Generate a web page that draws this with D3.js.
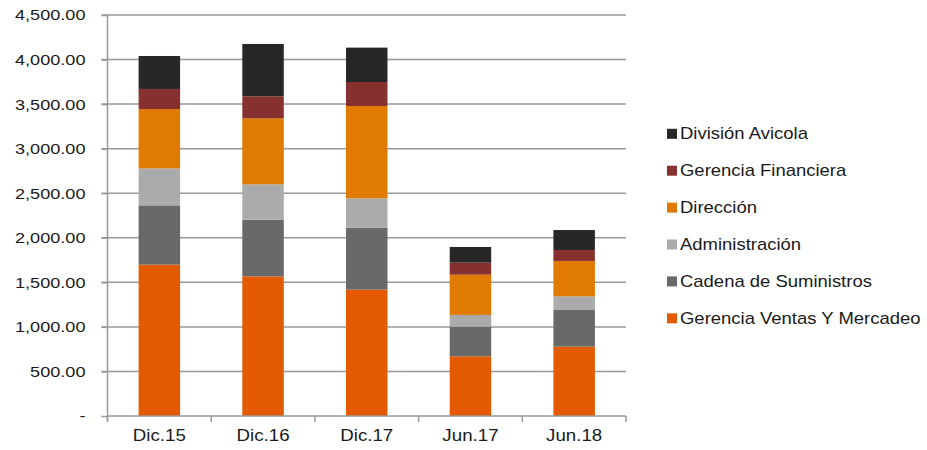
<!DOCTYPE html>
<html><head><meta charset="utf-8">
<script src="https://cdn.jsdelivr.net/npm/d3@7"></script>
<style>body{margin:0;background:#fff}svg{display:block;font-family:"Liberation Sans",Arial,sans-serif}</style>
</head><body><svg id="c" width="927" height="450"></svg>
<script>
const categories = ["Dic.15","Dic.16","Dic.17","Jun.17","Jun.18"];
const seriesNames = ["Gerencia Ventas Y Mercadeo","Cadena de Suministros","Administración","Dirección","Gerencia Financiera","División Avicola"];
const gerenciaVentas = [1698,1567,1418,670,778];
const cadenaSuministros = [666,636,696,333,412];
const administracion = [415,397,329,131,153];
const direccion = [666,741,1036,452,397];
const gerenciaFinanciera = [225,247,269,135,123];
const divisionAvicola = [370,587,386,176,224];
const colors = ["#E35A00","#696969","#ABABAB","#E07A00","#86302F","#272727"];
const yTicks = [0,500,1000,1500,2000,2500,3000,3500,4000,4500];

const seriesVals = [gerenciaVentas,cadenaSuministros,administracion,direccion,gerenciaFinanciera,divisionAvicola];
const rows = categories.map((c,i)=>{const r={cat:c};seriesNames.forEach((s,j)=>r[s]=seriesVals[j][i]);return r;});
const stack = d3.stack().keys(seriesNames)(rows);

const svg = d3.select("#c");
const L=107.5, R=626, T=15, B=416;
const SX=1.17;
const x = d3.scaleBand().domain(categories).range([L,R]).paddingInner(0.6).paddingOuter(0.3);
const y = d3.scaleLinear().domain([0,4500]).range([B,T]);
const fmt = v => v===0 ? "-" : d3.format(",.2f")(v);

// gridlines
svg.append("g").selectAll("line").data(yTicks.filter(d=>d>0)).join("line")
  .attr("x1",L-6).attr("x2",R).attr("y1",d=>y(d)).attr("y2",d=>y(d))
  .attr("stroke","#999").attr("stroke-width",1.5);

// bars
svg.append("g").selectAll("g").data(stack).join("g").attr("fill",(d,i)=>colors[i])
  .selectAll("rect").data(d=>d).join("rect")
  .attr("x",d=>x(d.data.cat)).attr("width",x.bandwidth())
  .attr("y",d=>y(d[1])).attr("height",d=>y(d[0])-y(d[1]));

// y axis
const ya = svg.append("g").attr("transform",`translate(${L},0)`)
  .call(d3.axisLeft(y).tickValues(yTicks).tickFormat(fmt).tickSize(6).tickPadding(16));
ya.select(".domain").attr("stroke","#999").attr("stroke-width",1.5).attr("d",`M0,${T}V${B+5}`);
ya.selectAll(".tick line").attr("stroke","#999").attr("stroke-width",1.5);
ya.selectAll("text").attr("font-size",15.5).attr("fill","#1a1a1a").attr("font-family","Liberation Sans, Arial, sans-serif")
  .attr("x",0).attr("transform",`translate(-22,0) scale(1.17,1)`);

// x axis
const xa = svg.append("g").attr("transform",`translate(0,${B})`)
  .call(d3.axisBottom(x).tickSize(0).tickPadding(14));
xa.select(".domain").attr("stroke","#999").attr("stroke-width",1.5).attr("d",`M${L},0H${R}`);
xa.selectAll("text").attr("font-size",16).attr("fill","#1a1a1a").attr("font-family","Liberation Sans, Arial, sans-serif")
  .attr("transform",`scale(${SX},1)`);
xa.selectAll(".tick").each(function(d){
  d3.select(this).attr("transform",`translate(${x(d)+x.bandwidth()/2},0)`);
});
const bounds = d3.range(categories.length+1).map(i=>L + i*(R-L)/categories.length);
svg.append("g").selectAll("line").data(bounds).join("line")
  .attr("x1",d=>d).attr("x2",d=>d).attr("y1",B).attr("y2",B+6)
  .attr("stroke","#999").attr("stroke-width",1.5);

// legend
const legendOrder = seriesNames.map((s,i)=>({s,c:colors[i]})).reverse();
const lg = svg.append("g").selectAll("g").data(legendOrder).join("g")
  .attr("transform",(d,i)=>`translate(667,${133.8+i*36.9})`);
lg.append("rect").attr("x",0).attr("y",-5).attr("width",10).attr("height",10).attr("fill",d=>d.c);
lg.append("text").attr("x",0).attr("y",5.5).attr("font-size",16).attr("fill","#1a1a1a")
  .attr("transform",`translate(13,0) scale(1.155,1)`).text(d=>d.s);
</script></body></html>
